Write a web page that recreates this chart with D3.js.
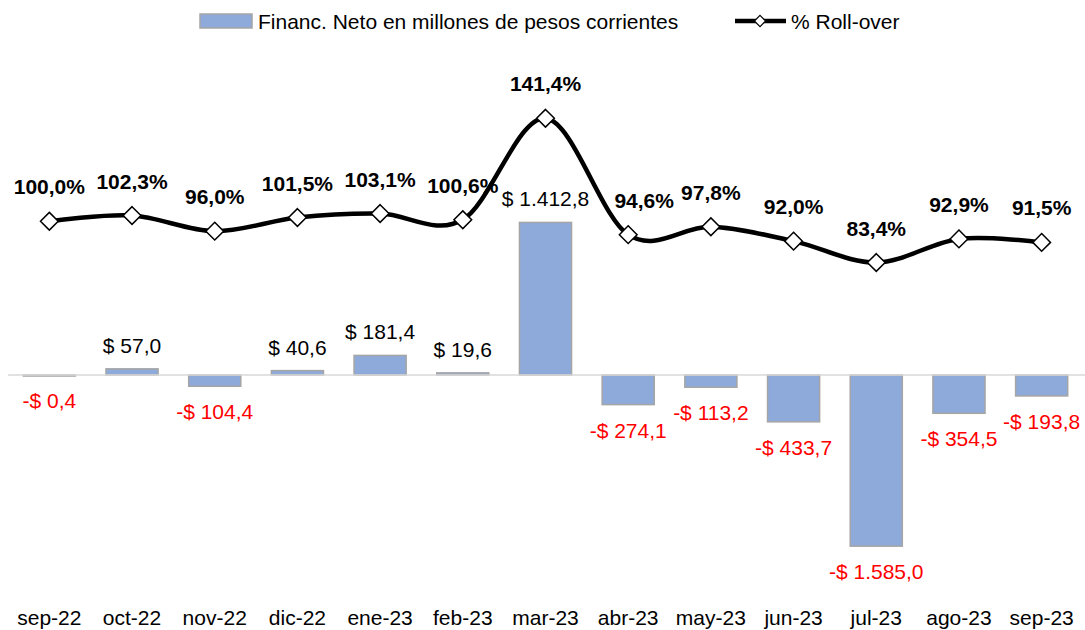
<!DOCTYPE html>
<html>
<head>
<meta charset="utf-8">
<script src="https://cdn.jsdelivr.net/npm/d3@7"></script>
<style>
  body { margin: 0; background: #fff; }
  svg { display: block; font-family: "Liberation Sans", Arial, sans-serif; }
</style>
</head>
<body>
<div id="chart"></div>
<script>
// Months on the x axis
const months = ["sep-22", "oct-22", "nov-22", "dic-22", "ene-23", "feb-23", "mar-23",
                "abr-23", "may-23", "jun-23", "jul-23", "ago-23", "sep-23"];
// Financ. neto (millones de pesos corrientes)
const financ = [-0.4, 57.0, -104.4, 40.6, 181.4, 19.6, 1412.8,
                -274.1, -113.2, -433.7, -1585.0, -354.5, -193.8];
// % Roll-over
const rollover = [100.0, 102.3, 96.0, 101.5, 103.1, 100.6, 141.4,
                  94.6, 97.8, 92.0, 83.4, 92.9, 91.5];

const width = 1085, height = 630;
const barFill = "#8eaadb", barStroke = "#a5a5a5";
const fontSize = 21;
// labels that were nudged sideways in the original
const pctLabelDx = { "abr-23": 16 };

const loc = d3.formatLocale({ decimal: ",", thousands: ".", grouping: [3], currency: ["$ ", ""] });
const fmtNum = loc.format(",.1f");
const fmtMoney = v => (v < 0 ? "-$ " : "$ ") + fmtNum(Math.abs(v));
const fmtPct = v => loc.format(".1f")(v) + "%";

const svg = d3.select("#chart").append("svg")
    .attr("width", width)
    .attr("height", height);

const x = d3.scaleBand()
    .domain(months)
    .range([8, 1083])
    .paddingInner(0.37)
    .paddingOuter(0.185);
const cx = d => x(d) + x.bandwidth() / 2;

const yBar = d3.scaleLinear().domain([-2000, 1500]).range([591, 213]);
const yLine = d3.scaleLinear().domain([0, 160]).range([470, 72]);

// Bars
svg.append("g")
    .selectAll("rect")
    .data(financ)
    .join("rect")
    .attr("x", (d, i) => x(months[i]))
    .attr("width", x.bandwidth())
    .attr("y", d => Math.min(yBar(d), yBar(0)))
    .attr("height", d => Math.max(Math.abs(yBar(d) - yBar(0)), 1))
    .attr("fill", barFill)
    .attr("stroke", barStroke)
    .attr("stroke-width", 1.5);

// Zero line
svg.append("line")
    .attr("x1", 8).attr("x2", 1085)
    .attr("y1", yBar(0)).attr("y2", yBar(0))
    .attr("stroke", "#d9d9d9")
    .attr("stroke-width", 1.5);

// Bar labels
svg.append("g")
    .selectAll("text")
    .data(financ)
    .join("text")
    .attr("x", (d, i) => cx(months[i]))
    .attr("y", d => d >= 0 ? yBar(d) - 16 : yBar(d) + 33)
    .attr("text-anchor", "middle")
    .attr("font-size", fontSize)
    .attr("fill", d => d >= 0 ? "#000" : "#ff0000")
    .text(fmtMoney);

// Roll-over line (smoothed like the original)
const line = d3.line()
    .x((d, i) => cx(months[i]))
    .y(d => yLine(d))
    .curve(d3.curveCardinal.tension(0));

svg.append("path")
    .datum(rollover)
    .attr("d", line)
    .attr("fill", "none")
    .attr("stroke", "#000")
    .attr("stroke-width", 4.5);

const diamond = d3.symbol().type(d3.symbolDiamond2).size(200);

svg.append("g")
    .selectAll("path")
    .data(rollover)
    .join("path")
    .attr("transform", (d, i) => `translate(${cx(months[i])},${yLine(d)})`)
    .attr("d", diamond)
    .attr("fill", "#fff")
    .attr("stroke", "#000")
    .attr("stroke-width", 1.5);

svg.append("g")
    .selectAll("text")
    .data(rollover)
    .join("text")
    .attr("x", (d, i) => cx(months[i]) + (pctLabelDx[months[i]] || 0))
    .attr("y", d => yLine(d) - 27)
    .attr("text-anchor", "middle")
    .attr("font-size", fontSize)
    .attr("font-weight", "bold")
    .text(fmtPct);

// X axis labels
svg.append("g")
    .selectAll("text")
    .data(months)
    .join("text")
    .attr("x", d => cx(d))
    .attr("y", 625)
    .attr("text-anchor", "middle")
    .attr("font-size", fontSize)
    .text(d => d);

// Legend
const legend = svg.append("g");
legend.append("rect")
    .attr("x", 200).attr("y", 14)
    .attr("width", 52).attr("height", 14)
    .attr("fill", barFill)
    .attr("stroke", barStroke)
    .attr("stroke-width", 1.5);
legend.append("text")
    .attr("x", 258).attr("y", 29)
    .attr("font-size", fontSize)
    .text("Financ. Neto en millones de pesos corrientes");
legend.append("line")
    .attr("x1", 735).attr("x2", 786)
    .attr("y1", 21).attr("y2", 21)
    .attr("stroke", "#000")
    .attr("stroke-width", 4.5);
legend.append("path")
    .attr("transform", "translate(760,21)")
    .attr("d", d3.symbol().type(d3.symbolDiamond2).size(80))
    .attr("fill", "#fff")
    .attr("stroke", "#000")
    .attr("stroke-width", 1.2);
legend.append("text")
    .attr("x", 791).attr("y", 29)
    .attr("font-size", fontSize)
    .text("% Roll-over");
</script>
</body>
</html>
